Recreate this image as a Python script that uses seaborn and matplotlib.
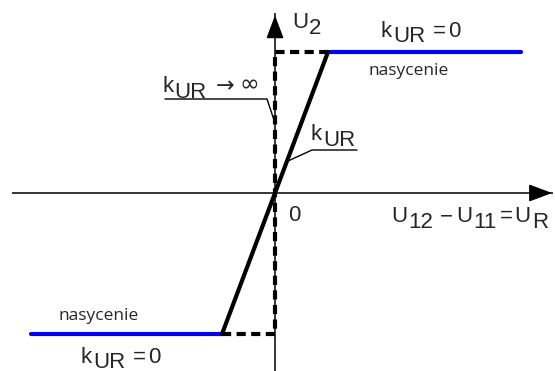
import matplotlib
matplotlib.use("Agg")
import matplotlib.pyplot as plt
import seaborn as sns
import pandas as pd

# ---- data (normalised units: U_R in units of the linear range, U2 in units of saturation) ----
lin_x = [-1.0, 1.0]          # linear region (k_UR)
lin_y = [-1.0, 1.0]
sat_top_x = [1.0, 4.64]      # positive saturation (k_UR = 0)
sat_top_y = [1.0, 1.0]
sat_bot_x = [-4.6, -1.0]     # negative saturation (k_UR = 0)
sat_bot_y = [-1.0, -1.0]
ideal_x = [-1.0, 0.0, 0.0, 1.0]   # ideal comparator (k_UR -> inf)
ideal_y = [-1.0, -1.0, 1.0, 1.0]
xaxis_range = [-4.96, 5.25]
yaxis_range = [-1.27, 1.28]

sns.set_theme(style="white")
plt.rcParams["font.family"] = ["Liberation Sans", "DejaVu Sans"]

W, H = 555, 371
fig = plt.figure(figsize=(W / 100, H / 100), dpi=100)
ax = fig.add_axes([0, 0, 1, 1])
ax.set_xlim(-275 / 53, (W - 275) / 53)
ax.set_ylim(-(H - 193) / 141, 193 / 141)
ax.axis("off")

# axes with arrows
ax.plot(xaxis_range, [0, 0], color="black", lw=1.1, solid_capstyle="butt")
ax.plot([0, 0], yaxis_range, color="black", lw=1.1, solid_capstyle="butt")
ax.annotate("", xy=(xaxis_range[1] + 0.03, 0), xytext=(xaxis_range[1] - 0.33, 0),
            arrowprops=dict(arrowstyle="-|>,head_length=1.2,head_width=0.45", color="black", lw=1.1))
ax.annotate("", xy=(0, yaxis_range[1]), xytext=(0, yaxis_range[1] - 0.14),
            arrowprops=dict(arrowstyle="-|>,head_length=1.2,head_width=0.45", color="black", lw=1.1))

# ideal characteristic (dashed)
df_ideal = pd.DataFrame({"x": ideal_x, "y": ideal_y})
sns.lineplot(data=df_ideal, x="x", y="y", sort=False, ax=ax, color="black", lw=3.0,
             linestyle=(0, (2.2, 1.3)), estimator=None)
# saturation (blue)
sns.lineplot(x=sat_top_x, y=sat_top_y, ax=ax, color="#0000ee", lw=3.0, estimator=None,
             solid_capstyle="round")
sns.lineplot(x=sat_bot_x, y=sat_bot_y, ax=ax, color="#0000ee", lw=3.0, estimator=None,
             solid_capstyle="round")
# linear region
sns.lineplot(x=lin_x, y=lin_y, ax=ax, color="black", lw=3.0, estimator=None)

renderer = fig.canvas.get_renderer()
FS = 16


def P(px, py):
    return (px / W, 1 - py / H)


def chain(px, py, pieces):
    """pieces: (text, dy_px, gap_before_px, size)"""
    x = px
    for s, dy, gap, size in pieces:
        x += gap
        t = ax.text(*P(x, py + dy), s, transform=ax.transAxes, fontsize=size,
                    ha="left", va="baseline")
        bb = t.get_window_extent(renderer)
        x = bb.x1


def txt(px, py, s, size=FS, **kw):
    ax.text(*P(px, py), s, transform=ax.transAxes, fontsize=size, ha="left", va="baseline", **kw)


NAS = dict(size=12.5, family=["Open Sans", "DejaVu Sans"])
SUB = 5.5

# U2
chain(292, 28, [("U", 0, 0, FS), ("2", SUB, 1, FS)])
# k_UR = 0 (top)
chain(381, 37, [("k", 0, 0, FS), ("UR", SUB, 1, FS), ("=", 0, 7, FS), ("0", 0, 3, FS)])
txt(369, 75, "nasycenie", **NAS)
# k_UR -> inf
chain(162, 92, [("k", 0, 0, FS), ("UR", SUB, 1, FS)])
txt(216, 92, "\u2192", size=16, family=["DejaVu Sans"])
txt(240, 91, "\u221e", size=17, family=["DejaVu Sans"])
# k_UR (middle)
chain(311, 140, [("k", 0, 0, FS), ("UR", SUB, 1, FS)])
# origin
txt(288, 221, "0")
# U12 - U11 = UR
chain(391, 222, [("U", 0, 0, FS), ("12", SUB, 1, FS), ("\u2212", 0, 7, FS),
                 ("U", 0, 3, FS), ("11", SUB, 1, FS), ("=", 0, 3, FS),
                 ("U", 0, 2, FS), ("R", SUB, 1, FS)])
# bottom
txt(59, 320, "nasycenie", **NAS)
chain(81, 363, [("k", 0, 0, FS), ("UR", 4.5, 1, FS), ("=", 0, 7, FS), ("0", 0, 3, FS)])

# leader lines
for pts in ([(165, 99), (267, 99), (275, 123)], [(357, 150), (312, 150), (288, 161)]):
    xs = [P(*p)[0] for p in pts]
    ys = [P(*p)[1] for p in pts]
    ax.plot(xs, ys, color="black", lw=1.0, transform=ax.transAxes)

fig.savefig("out.png", dpi=100)
